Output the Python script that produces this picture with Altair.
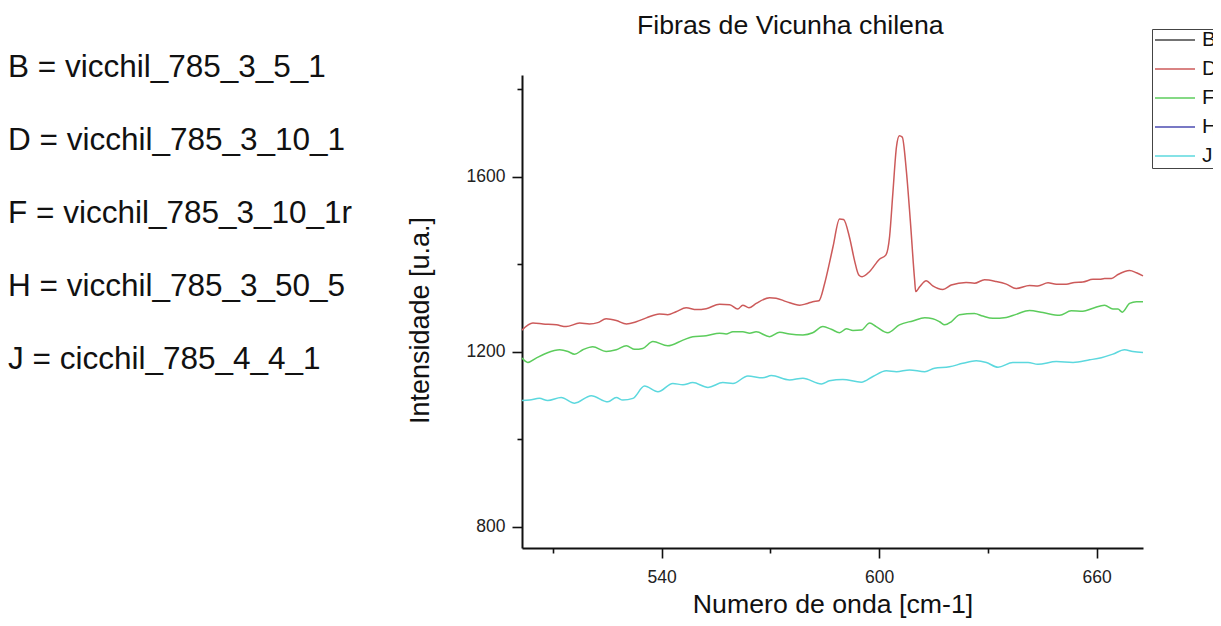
import altair as alt
import pandas as pd

# ---- data ----
series_codes = ["B", "D", "F", "H", "J"]
file_names = ["vicchil_785_3_5_1", "vicchil_785_3_10_1", "vicchil_785_3_10_1r",
              "vicchil_785_3_50_5", "cicchil_785_4_4_1"]
series_colors = ["#444444", "#cc5a5a", "#5ccc5c", "#4b4bb0", "#5cd8de"]

x_D = [501.5, 504.5, 507.3, 511, 513.7, 517.4, 520.1, 522.4, 524.7, 527.5, 530.3, 533, 535.8,
       539.4, 541.7, 544, 546.8, 549.6, 552.3, 556, 558.8, 561, 562.4, 564.1, 566.1, 569.8,
       571.6, 574.4, 578.1, 579.9, 581.7, 583.4, 585, 586.3, 587.3, 589.1, 590.2, 591.9, 593.2,
       594.4, 595.3, 597.4, 600.1, 601.9, 602.9, 603.8, 604.8, 605.6, 606.4, 607.5, 608.6,
       609.8, 610.1, 611.2, 613, 614.8, 617.6, 619.9, 624, 626.3, 629.1, 632.3, 635.1, 637.8,
       641.5, 643.8, 646.6, 648.9, 651.6, 653.9, 656.2, 659, 660.8, 662.2, 664.1, 665.9, 669.1,
       671, 672.8]
y_D = [1250, 1266, 1264, 1262, 1258, 1266, 1264, 1267, 1276, 1272, 1264, 1269, 1278,
       1287, 1285, 1292, 1301, 1297, 1299, 1309, 1308, 1298, 1307, 1301, 1311, 1324,
       1323, 1315, 1307, 1310, 1315, 1317, 1357, 1403, 1441, 1504, 1503, 1460, 1410,
       1376, 1372, 1384, 1412, 1422, 1464, 1563, 1669, 1694, 1691, 1616, 1502,
       1365, 1338, 1349, 1363, 1351, 1343, 1353, 1359, 1357, 1365, 1361, 1355, 1345,
       1352, 1351, 1358, 1355, 1355, 1359, 1360, 1366, 1366, 1368, 1368, 1377, 1386,
       1381, 1374]

x_F = [501.5, 503.1, 505.4, 508.2, 511.9, 514.2, 516, 518.3, 521, 524.7, 527.5, 530.3, 532.6,
       534.8, 537.6, 541.7, 545.9, 548.6, 552.3, 556, 557.8, 559.7, 562.4, 564.3, 566.1, 569.8,
       572.6, 575.3, 579, 581.7, 584.5, 586.8, 589.1, 591, 592.8, 595.1, 597.4, 599.2, 602.4,
       605.6, 609.3, 612.6, 614.8, 616.7, 618.1, 619.9, 622.2, 626.3, 628.6, 631.4, 635.1,
       637.8, 641.5, 645.2, 649.8, 653, 656.2, 659, 662.2, 664.5, 665.9, 667.1, 669.1, 671, 672.8]
y_F = [1186, 1176, 1186, 1197, 1205, 1201, 1195, 1205, 1212, 1201, 1205, 1214, 1206,
       1208, 1224, 1214, 1227, 1235, 1237, 1243, 1241, 1246, 1246, 1243, 1246, 1235,
       1245, 1241, 1239, 1244, 1258, 1252, 1244, 1253, 1249, 1250, 1266, 1258, 1244,
       1262, 1271, 1278, 1276, 1269, 1262, 1269, 1285, 1288, 1282, 1277, 1279,
       1286, 1295, 1290, 1284, 1294, 1293, 1300, 1307, 1298, 1298, 1291, 1311, 1315, 1315]

x_J = [501.5, 503.6, 506.3, 508.6, 512.3, 516, 520.6, 525.2, 527.5, 529.3, 532.1, 535.3, 539,
       543.1, 545.9, 548.6, 552.8, 556.9, 559.7, 563.8, 567.9, 570.3, 575.3, 579, 584.1, 586.3,
       590, 595.1, 598.3, 602, 604.8, 608.4, 612.6, 615.3, 619.4, 623.1, 626.8, 629.6, 632.8,
       636.9, 641.1, 643.8, 648.9, 653.5, 658.1, 661.3, 664.5, 667.7, 670, 672.8]
y_J = [1089, 1090, 1094, 1089, 1096, 1083, 1100, 1086, 1096, 1090, 1094, 1122, 1109,
       1128, 1125, 1130, 1119, 1130, 1128, 1145, 1141, 1146, 1136, 1140, 1127, 1134,
       1137, 1131, 1144, 1157, 1155, 1159, 1155, 1163, 1166, 1174, 1180, 1176, 1165,
       1176, 1176, 1172, 1178, 1176, 1182, 1187, 1195, 1205, 1201, 1199]

x_major = [540, 600, 660]
x_minor = [510, 570, 630]
y_major = [800, 1200, 1600]
y_minor = [1000, 1400, 1800]
x_domain = [501.5, 672.8]
y_domain = [752, 1833]

title_text = "Fibras de Vicunha chilena"
x_title = "Numero de onda [cm-1]"
y_title = "Intensidade [u.a.]"

# ---- build table ----
rows = []
for code, xs, ys in [("D", x_D, y_D), ("F", x_F, y_F), ("J", x_J, y_J)]:
    for xv, yv in zip(xs, ys):
        rows.append({"series": code, "x": xv, "y": yv})
df = pd.DataFrame(rows)

key_lines = [f"{c} = {n}" for c, n in zip(series_codes, file_names)]

FONT = "Liberation Sans"
xscale = alt.Scale(domain=x_domain, nice=False, zero=False)
yscale = alt.Scale(domain=y_domain, nice=False, zero=False)

major_x = alt.Axis(values=x_major, orient="bottom", title=x_title, grid=False, format="d",
                   domainColor="#111", domainWidth=2, tickColor="#111", tickWidth=1.6,
                   tickSize=10, labelFont=FONT, labelFontSize=17.5, labelColor="#222",
                   labelBaseline="alphabetic", labelPadding=24, labelFlush=False,
                   titleFont=FONT, titleFontSize=26.7, titleFontWeight="normal",
                   titleColor="#111", titleX=310.5, titleY=64, titleBaseline="alphabetic",
                   titleAlign="center")
major_y = alt.Axis(values=y_major, orient="left", title=y_title, grid=False, format="d",
                   domainColor="#111", domainWidth=2, tickColor="#111", tickWidth=1.6,
                   tickSize=10, labelFont=FONT, labelFontSize=17.5, labelColor="#222",
                   labelPadding=7, labelFlush=False,
                   titleFont=FONT, titleFontSize=27, titleFontWeight="normal",
                   titleColor="#111", titleX=-102, titleY=245, titleAngle=270,
                   titleBaseline="middle", titleAlign="center")
minor_x = alt.Axis(values=x_minor, orient="bottom", title=None, grid=False, domain=False,
                   labels=False, tickColor="#111", tickWidth=1.6, tickSize=5)
minor_y = alt.Axis(values=y_minor, orient="left", title=None, grid=False, domain=False,
                   labels=False, tickColor="#111", tickWidth=1.6, tickSize=5)

legend = alt.Legend(orient="none", legendX=630, legendY=-46, title=None,
                    symbolType="stroke", symbolSize=1600, symbolStrokeWidth=1.3,
                    clipHeight=18, rowPadding=8, labelFont=FONT, labelFontSize=21,
                    labelColor="#111", labelOffset=6, strokeColor="#444", padding=2,
                    fillColor="white", symbolOffset=0)

lines = alt.Chart(df).mark_line(strokeWidth=1.5, interpolate="monotone").encode(
    x=alt.X("x:Q", scale=xscale, axis=major_x),
    y=alt.Y("y:Q", scale=yscale, axis=major_y),
    color=alt.Color("series:N", scale=alt.Scale(domain=series_codes, range=series_colors),
                    legend=legend),
)

minor = alt.Chart(df).mark_line(strokeOpacity=0).encode(
    x=alt.X("x:Q", scale=xscale, axis=minor_x),
    y=alt.Y("y:Q", scale=yscale, axis=minor_y),
    detail="series:N",
)

key_text = alt.Chart(alt.Data(values=[{"k": 0}])).mark_text(
    text=key_lines, align="left", baseline="alphabetic", font=FONT, fontSize=31.5,
    lineHeight=73, color="#111"
).encode(x=alt.value(-514), y=alt.value(1.5))

chart = alt.layer(lines, minor, key_text).resolve_axis(
    x="independent", y="independent"
).properties(
    width=621, height=473,
    title=alt.TitleParams(title_text, anchor="start", frame="group", dx=115, dy=15,
                          font=FONT, fontSize=26.7, fontWeight="normal", color="#111"),
    autosize=alt.AutoSizeParams(type="none"),
    padding={"left": 514, "top": 67, "right": 70, "bottom": 70},
).configure_view(stroke=None)

chart.save("out.html", embed_options={"renderer": "svg", "actions": False})
